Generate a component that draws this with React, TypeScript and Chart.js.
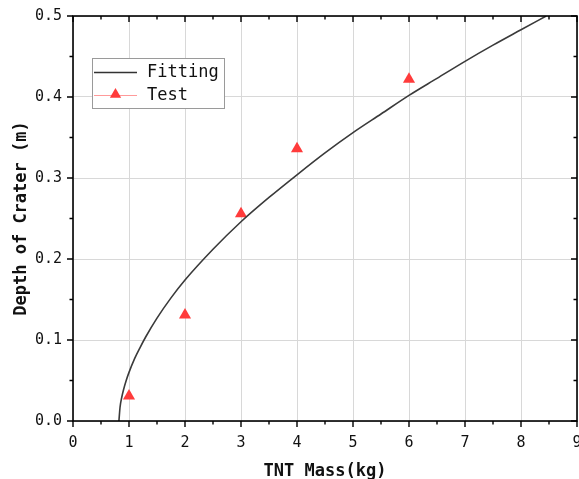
import React, { useEffect, useRef } from "react";
import { Chart, registerables } from "chart.js";

Chart.register(...registerables);

// Test data
const testMass = [1, 2, 3, 4, 6];
const testDepth = [0.031, 0.131, 0.256, 0.336, 0.422];

// Fitting curve
const fitMass = [0.82, 0.84, 0.87, 0.9, 0.95, 1, 1.1, 1.2, 1.3, 1.5, 1.75, 2, 2.5, 3, 3.5, 4, 4.5, 5, 5.5, 6, 6.5, 7, 7.5, 8, 8.45];
const fitDepth = [0, 0.017, 0.029, 0.038, 0.05, 0.06, 0.077, 0.091, 0.104, 0.127, 0.152, 0.174, 0.212, 0.246, 0.276, 0.304, 0.331, 0.356, 0.379, 0.402, 0.423, 0.444, 0.464, 0.483, 0.5];

const xTitle = "TNT Mass(kg)";
const yTitle = "Depth of Crater (m)";
const fitLabel = "Fitting";
const testLabel = "Test";

const MONO = "'DejaVu Sans Mono', monospace";
const RED = "#ff3b3b";

const framePlugin = {
  id: "frame",
  afterDraw(chart: any) {
    const ctx = chart.ctx;
    const { left, right, top, bottom } = chart.chartArea;
    const xs = chart.scales.x;
    const ys = chart.scales.y;
    ctx.save();
    ctx.strokeStyle = "#000";
    ctx.lineWidth = 1.6;
    ctx.strokeRect(left, top, right - left, bottom - top);
    ctx.lineWidth = 1.4;
    ctx.beginPath();
    for (let i = 0; i <= 18; i++) {
      const v = i * 0.5;
      const px = xs.getPixelForValue(v);
      const len = i % 2 === 0 ? 6 : 3.5;
      ctx.moveTo(px, bottom);
      ctx.lineTo(px, bottom + len);
      ctx.moveTo(px, top);
      ctx.lineTo(px, top + len);
    }
    for (let i = 0; i <= 10; i++) {
      const v = i * 0.05;
      const py = ys.getPixelForValue(v);
      const len = i % 2 === 0 ? 6 : 3.5;
      ctx.moveTo(left, py);
      ctx.lineTo(left - len, py);
      ctx.moveTo(right, py);
      ctx.lineTo(right - len, py);
    }
    ctx.stroke();

    // legend
    const bx = 92, by = 58, bw = 132, bh = 50;
    ctx.fillStyle = "#fff";
    ctx.fillRect(bx, by, bw, bh);
    ctx.strokeStyle = "#9a9a9a";
    ctx.lineWidth = 1;
    ctx.strokeRect(bx + 0.5, by + 0.5, bw, bh);
    const r1 = 72.5, r2 = 95.5;
    ctx.strokeStyle = "#333";
    ctx.lineWidth = 1.5;
    ctx.beginPath();
    ctx.moveTo(94, r1);
    ctx.lineTo(137, r1);
    ctx.stroke();
    ctx.strokeStyle = "#ff9a9a";
    ctx.lineWidth = 1;
    ctx.beginPath();
    ctx.moveTo(94, r2);
    ctx.lineTo(137, r2);
    ctx.stroke();
    ctx.fillStyle = RED;
    ctx.beginPath();
    const cx = 115.5, cy = r2 - 1, rr = 6.5;
    ctx.moveTo(cx, cy - rr);
    ctx.lineTo(cx + rr * 0.866, cy + rr * 0.5);
    ctx.lineTo(cx - rr * 0.866, cy + rr * 0.5);
    ctx.closePath();
    ctx.fill();
    ctx.fillStyle = "#111";
    ctx.font = `17px ${MONO}`;
    ctx.textBaseline = "middle";
    ctx.textAlign = "left";
    ctx.fillText(fitLabel, 147, r1);
    ctx.fillText(testLabel, 147, r2);
    ctx.restore();
  },
};

export default function App() {
  const ref = useRef<HTMLCanvasElement>(null);
  useEffect(() => {
    if (!ref.current) return;
    const chart = new Chart(ref.current, {
      type: "scatter",
      data: {
        datasets: [
          {
            label: fitLabel,
            data: fitMass.map((x, i) => ({ x, y: fitDepth[i] })),
            showLine: true,
            borderColor: "#3a3a3a",
            borderWidth: 1.6,
            pointRadius: 0,
            cubicInterpolationMode: "monotone",
          },
          {
            label: testLabel,
            data: testMass.map((x, i) => ({ x, y: testDepth[i] })),
            showLine: false,
            pointStyle: "triangle",
            pointRadius: 7,
            backgroundColor: RED,
            borderColor: RED,
            borderWidth: 0,
          },
        ],
      },
      options: {
        animation: false,
        responsive: true,
        maintainAspectRatio: false,
        layout: { padding: { top: 16, right: 0, left: 0, bottom: 0 } },
        plugins: { legend: { display: false }, tooltip: { enabled: false } },
        scales: {
          x: {
            type: "linear",
            min: 0,
            max: 9,
            ticks: { stepSize: 1, padding: 13, color: "#111", font: { family: MONO, size: 15 } },
            grid: { color: "#d8d8d8", drawTicks: false, lineWidth: 1 },
            border: { display: false },
            title: { display: true, text: xTitle, color: "#111", font: { family: MONO, size: 17, weight: "bold" }, padding: { top: 0, bottom: -3 } },
            afterFit: (s: any) => { s.height = 58; s.paddingLeft = 0; s.paddingRight = 0; },
          },
          y: {
            type: "linear",
            min: 0,
            max: 0.5,
            ticks: { stepSize: 0.1, padding: 11, color: "#111", font: { family: MONO, size: 15 }, callback: (v: any) => Number(v).toFixed(1) },
            grid: { color: "#d8d8d8", drawTicks: false, lineWidth: 1 },
            border: { display: false },
            title: { display: true, text: yTitle, color: "#111", font: { family: MONO, size: 17, weight: "bold" }, padding: { top: 11, bottom: 0 } },
            afterFit: (s: any) => { s.width = 73; s.paddingTop = 0; s.paddingBottom = 0; },
          },
        },
      },
      plugins: [framePlugin],
    } as any);
    return () => chart.destroy();
  }, []);
  return (
    <div style={{ position: "fixed", left: 0, top: 0, width: 579, height: 479, overflow: "hidden", background: "#fff" }}>
      <div style={{ position: "absolute", left: 0, top: 0, width: 584, height: 479 }}>
        <canvas ref={ref} />
      </div>
    </div>
  );
}
